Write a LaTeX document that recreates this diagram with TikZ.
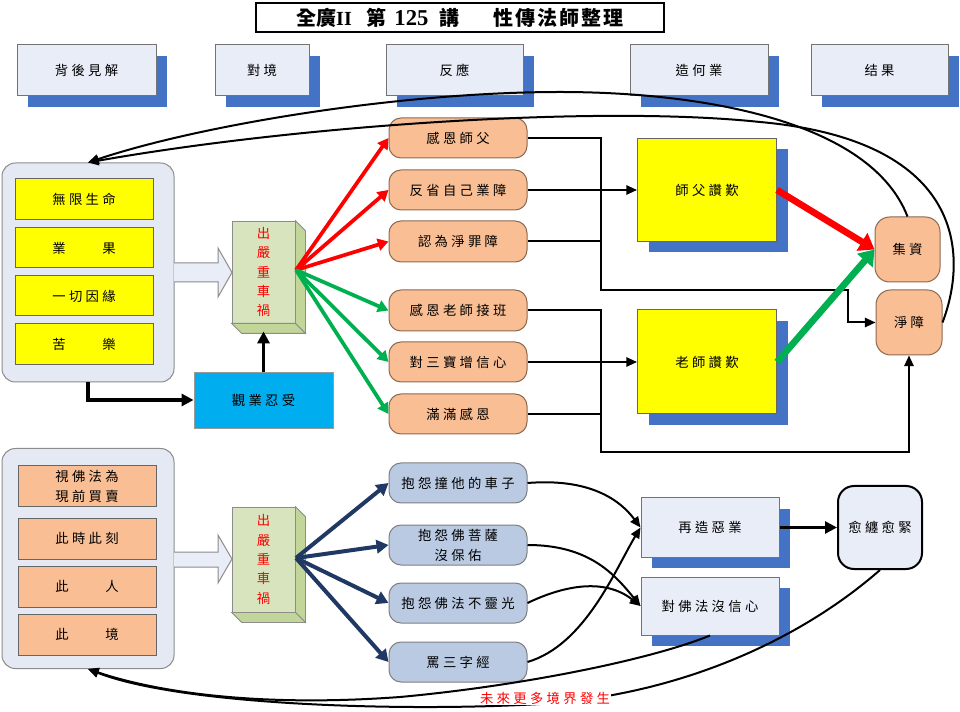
\documentclass[tikz,border=0pt]{standalone}
\usepackage{fontspec}
\setmainfont{Liberation Serif}
\newfontfamily\cjk[LetterSpace=25]{Noto Sans CJK TC}
\newfontfamily\cjkt{Noto Sans CJK TC}
\newfontfamily\latf{Liberation Serif}
\usetikzlibrary{arrows.meta,shadows,calc}
\definecolor{hdrfill}{HTML}{E9EDF7}
\definecolor{shblue}{HTML}{4472C4}
\definecolor{panfill}{HTML}{E4E9F4}
\definecolor{orng}{HTML}{F9BE93}
\definecolor{orngd}{HTML}{8C6A50}
\definecolor{yel}{HTML}{FFFF00}
\definecolor{grn}{HTML}{D7E4BD}
\definecolor{grnd}{HTML}{C2D69A}
\definecolor{cyanb}{HTML}{00AEEF}
\definecolor{bgray}{HTML}{B9CAE2}
\definecolor{navy}{HTML}{1F3864}
\definecolor{rd}{HTML}{FF0000}
\definecolor{gn}{HTML}{00B050}
\begin{document}
\begin{tikzpicture}[x=0.75pt,y=-0.75pt,
  font=\cjk\fontsize{10}{12}\selectfont,
  wh/.style 2 args={minimum width=#1*0.75pt, minimum height=#2*0.75pt, inner sep=0pt},
  bshadow/.style={drop shadow={shadow xshift=8.25pt, shadow yshift=-8.25pt, fill=shblue, opacity=1}},
  hdr/.style={draw=black!55, fill=hdrfill, line width=0.75pt, bshadow},
  panel/.style={draw=black!45, fill=panfill, rounded corners=10pt, line width=0.75pt},
  ybox/.style={draw=black!60, fill=yel, line width=0.75pt},
  obox/.style={draw=black!60, fill=orng, line width=0.75pt},
  rbox/.style={draw=orngd, fill=orng, rounded corners=9pt, line width=0.75pt},
  bbox/.style={draw=black!50, fill=bgray, rounded corners=9pt, line width=0.75pt},
  grnbox/.style={draw=black!45, fill=grn, line width=0.6pt, text=rd, align=center, font=\cjk\fontsize{10}{14.5}\selectfont},
  cyanbox/.style={draw=black!40, fill=cyanb, line width=0.6pt},
  conn/.style={line width=1.5pt, black},
  arr/.style={conn, -{Triangle[length=8pt,width=7pt]}},
  tarr/.style={line width=2.3pt, black, -{Triangle[length=9pt,width=9pt]}},
  fanred/.style={draw=rd, line width=2.8pt, -{Triangle[length=8pt,width=9pt]}},
  fangrn/.style={draw=gn, line width=2.8pt, -{Triangle[length=8pt,width=9pt]}},
  fannavy/.style={draw=navy, line width=3pt, -{Triangle[length=9pt,width=10pt]}},
  bigred/.style={draw=rd, line width=5pt, -{Triangle[length=11pt,width=15pt]}},
  biggrn/.style={draw=gn, line width=5pt, -{Triangle[length=11pt,width=15pt]}},
  hollow/.style={fill=hdrfill, draw=black!45, line width=0.75pt},
  face/.style={fill=grnd, draw=black!45, line width=0.6pt}
]
\useasboundingbox (0,0) rectangle (960,712);
\fill[white] (0,0) rectangle (960,712);

% title
\node[draw, line width=1.5pt, wh={408}{29}, fill=white, font=\cjkt\bfseries\fontsize{15}{17}\selectfont] (title) at (460,17.5)
  {全廣{\latf\bfseries II}\hspace{11pt}第\hspace{6pt}{\latf\bfseries\fontsize{17}{17}\selectfont 125}\hspace{8pt}講\hspace{26pt}{\addfontfeature{LetterSpace=10}性傳法師整理}};

% headers
\node[hdr, wh={139}{51}] (h1) at (86.5,70.5) {背後見解};
\node[hdr, wh={94}{51}] (h2) at (262,70.5) {對境};
\node[hdr, wh={137}{51}] (h3) at (454.5,70.5) {反應};
\node[hdr, wh={138}{51}] (h4) at (699,70.5) {造何業};
\node[hdr, wh={137}{51}] (h5) at (879.5,70.5) {结果};

% ===== upper section =====
\node[panel, wh={172}{219}] (pan1) at (88,272.5) {};
\node[ybox, wh={138}{41}] (y1) at (84,199.5) {無限生命};
\node[ybox, wh={138}{40}] (y2) at (84,248) {業　　果};
\node[ybox, wh={138}{40}] (y3) at (84,296) {一切因緣};
\node[ybox, wh={138}{41}] (y4) at (84,344.5) {苦　　樂};

\draw[hollow] (174,263) -- (218,263) -- (218,248) -- (232,272.5) -- (218,297) -- (218,282) -- (174,282);

\node[grnbox, wh={63}{102}] (c1) at (263.5,272) {出\\嚴\\重\\車\\禍};
\draw[face] (c1.north east) -- ++(10,10) -- ($(c1.south east)+(10,10)$) -- (c1.south east) -- cycle;
\draw[face] (c1.south west) -- ++(10,10) -- ($(c1.south east)+(10,10)$) -- (c1.south east) -- cycle;

\node[cyanbox, wh={139}{56}] (kan) at (263.5,400) {觀業忍受};
\draw[tarr] (pan1.south) |- (kan.west);
\draw[tarr] (kan.north) -- ($(c1.south)+(0,8)$);

\node[rbox, wh={138}{40}] (r1) at (458,138) {感恩師父};
\node[rbox, wh={138}{40}] (r2) at (458,190) {反省自己業障};
\node[rbox, wh={138}{41}] (r3) at (458,241.5) {認為淨罪障};
\node[rbox, wh={138}{41}] (r4) at (458,310.5) {感恩老師接班};
\node[rbox, wh={138}{40}] (r5) at (458,362) {對三寶增信心};
\node[rbox, wh={138}{40}] (r6) at (458,414) {滿滿感恩};

\coordinate (f1) at (296,270);
\foreach \t in {r1,r2,r3} \draw[fanred] (f1) -- (\t.west);
\foreach \t in {r4,r5,r6} \draw[fangrn] (f1) -- (\t.west);

\node[ybox, bshadow, wh={139}{103}] (p1) at (707,190) {師父讚歎};
\node[ybox, bshadow, wh={139}{104}] (p2) at (707,362) {老師讚歎};

\node[rbox, rounded corners=11pt, wh={65}{65}] (jz1) at (907.5,249.5) {集資};
\node[rbox, rounded corners=11pt, wh={66}{65}] (jz2) at (909,322.5) {淨障};

\coordinate (k1) at (601,290);
\coordinate (k2) at (848,290);
\coordinate (k3) at (601,452);
\draw[arr] (r1.east) -| (k1) -- (k2) |- (jz2.west);
\draw[arr] (r2.east) -- (p1.west);
\draw[conn] (r3.east) -- (r3.east -| k1);
\draw[arr] (r4.east) -| (k3) -| (jz2.south);
\draw[arr] (r5.east) -- (p2.west);
\draw[conn] (r6.east) -- (r6.east -| k3);
\fill (601,190) circle (1.8);
\fill (601,362) circle (1.8);

\draw[bigred] (p1.east) -- (jz1.west);
\draw[biggrn] (p2.east) -- (jz1.west);

% feedback curves to upper panel
\draw[arr] (jz1.north) .. controls (870,120) and (700,92) .. (560,92)
  .. controls (400,92) and (200,125) .. (pan1.north);
\draw[arr] (jz2.east) .. controls (970,250) and (960,140) .. (760,122)
  .. controls (600,105) and (300,125) .. (pan1.north);

% ===== lower section =====
\node[panel, wh={172}{220}] (pan2) at (88,558.5) {};
\node[obox, wh={138}{41}, align=center, font=\cjk\fontsize{10}{15}\selectfont] (o1) at (87,486.5) {視佛法為\\現前買賣};
\node[obox, wh={138}{41}] (o2) at (87,538.5) {此時此刻};
\node[obox, wh={138}{41}] (o3) at (87,586.5) {此　　人};
\node[obox, wh={138}{41}] (o4) at (87,634.5) {此　　境};

\draw[hollow] (174,552) -- (218,552) -- (218,535) -- (232,559) -- (218,583) -- (218,567) -- (174,567);

\node[grnbox, wh={63}{105}] (c2) at (263.5,559.5) {出\\嚴\\重\\車\\禍};
\draw[face] (c2.north east) -- ++(10,10) -- ($(c2.south east)+(10,10)$) -- (c2.south east) -- cycle;
\draw[face] (c2.south west) -- ++(10,10) -- ($(c2.south east)+(10,10)$) -- (c2.south east) -- cycle;

\node[bbox, wh={138}{40}] (b1) at (458,483) {抱怨撞他的車子};
\node[bbox, wh={138}{40}, align=center, font=\cjk\fontsize{10}{15}\selectfont] (b2) at (458,545) {抱怨佛菩薩\\沒保佑};
\node[bbox, wh={138}{40}] (b3) at (458,603) {抱怨佛法不靈光};
\node[bbox, wh={138}{40}] (b4) at (458,662) {罵三字經};

\coordinate (f2) at (296,558);
\foreach \t in {b1,b2,b3,b4} \draw[fannavy] (f2) -- (\t.west);

\node[hdr, wh={138}{59}] (zai) at (710,527.5) {再造惡業};
\node[hdr, wh={138}{58}] (dui) at (710,606) {對佛法沒信心};
\node[draw=black, line width=1.5pt, fill=hdrfill, rounded corners=12pt, wh={84}{83}] (yu) at (880,527.5) {愈纏愈緊};

\draw[arr] (b1.east) .. controls (590,478) and (620,500) .. (zai.west);
\draw[arr] (b4.east) .. controls (585,645) and (615,570) .. (zai.west);
\draw[arr] (b2.east) .. controls (590,545) and (615,575) .. (dui.west);
\draw[arr] (b3.east) .. controls (565,585) and (605,578) .. (dui.west);
\draw[tarr, line width=2pt] (zai.east) -- (yu.west);

\draw[arr] (dui.south) .. controls (650,660) and (520,686) .. (400,697)
  .. controls (250,708) and (150,690) .. (pan2.south);
\draw[arr] (yu.south) .. controls (800,640) and (680,695) .. (540,704)
  .. controls (400,712) and (180,705) .. (pan2.south);
\node[fill=white, text=rd, inner sep=0.5pt] (fut) at (545,698) {未來更多境界發生};
\end{tikzpicture}
\end{document}
